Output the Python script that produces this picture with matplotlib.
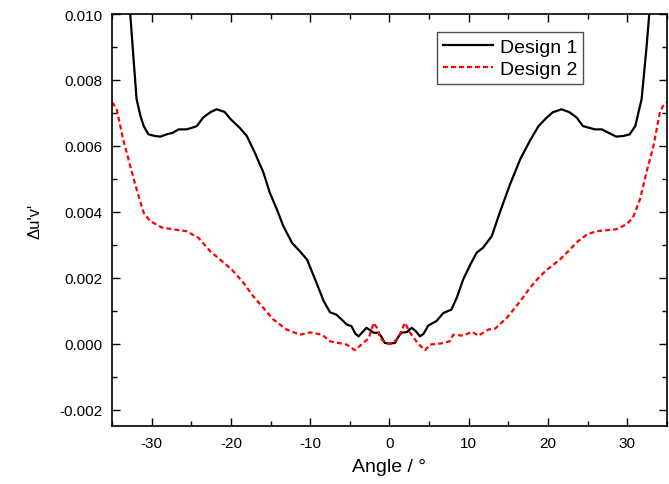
import matplotlib
matplotlib.use("Agg")
import matplotlib.pyplot as plt
from matplotlib.ticker import MultipleLocator, FormatStrFormatter

plt.rcParams["font.family"] = ["Liberation Sans", "DejaVu Sans"]
plt.rcParams["axes.unicode_minus"] = False

# Design 1
angle1 = [-33.3, -32.7, -32.3, -31.9, -31.4, -31.0, -30.4, -29.6, -28.9, -28.1,
          -27.3, -26.6, -25.6, -24.9, -24.3, -23.5, -22.6, -21.8, -20.8, -20.0,
          -18.9, -18.0, -17.0, -15.9, -15.1, -14.2, -13.4, -12.3, -11.3, -10.4,
          -9.2, -8.3, -7.5, -6.7, -5.9, -5.4, -4.8, -4.3, -3.9,
          -3.4, -2.9, -2.4, -2.0, -1.4, -1.0, -0.6, 0.0, 0.7, 1.1,
          1.5, 2.2, 2.8, 3.3, 3.85, 4.3, 4.9, 5.9, 6.8, 7.8,
          8.5, 9.3, 10.2, 11.0, 11.8, 12.9, 13.9, 15.2, 16.5, 17.7,
          18.8, 19.8, 20.6, 21.7, 22.7, 23.6, 24.4, 25.9, 26.8, 27.6, 28.6,
          29.5, 30.3, 31.0, 31.8, 32.4, 32.8, 33.2]
duv1 = [0.0115, 0.0100, 0.0087, 0.00742, 0.0069, 0.0066, 0.00635, 0.0063, 0.00628, 0.00635,
        0.0064, 0.0065, 0.0065, 0.00655, 0.0066, 0.00686, 0.00702, 0.00711, 0.00703, 0.0068,
        0.00655, 0.0063, 0.0058, 0.00519, 0.00458, 0.00407, 0.00357, 0.00306, 0.0028, 0.00255,
        0.00184, 0.00129, 0.00095, 0.00088, 0.0007, 0.00058, 0.00053, 0.0003, 0.00022,
        0.00035, 0.00048, 0.0004, 0.00033, 0.00033, 0.0002, 0.00002, 0.0, 0.00002, 0.0002,
        0.00033, 0.00035, 0.00048, 0.00038, 0.00022, 0.0003, 0.00055, 0.00068, 0.00093, 0.00103,
        0.0014, 0.00195, 0.0024, 0.00276, 0.00291, 0.00326, 0.00397, 0.00483, 0.0056, 0.00615,
        0.0066, 0.00685, 0.00702, 0.00711, 0.00702, 0.00686, 0.0066, 0.0065, 0.0065, 0.0064, 0.00628,
        0.0063, 0.00635, 0.0066, 0.00742, 0.00894, 0.0101, 0.0115]

# Design 2
angle2 = [-35.0, -34.8, -34.4, -33.6, -32.7, -31.9, -31.0, -30.2, -28.7, -27.3,
          -25.6, -24.1, -22.6, -19.9, -18.4, -17.2, -15.9, -14.65, -13.0, -11.3,
          -10.0, -8.5, -7.5, -5.4, -4.35, -3.4, -2.6, -2.0, -1.5, -1.2,
          -0.4, 0.3, 1.1, 1.95, 2.6, 3.6, 4.5, 5.1, 6.4, 7.6,
          8.05, 9.3, 10.4, 11.2, 12.5, 13.3, 14.8, 16.5, 17.7, 19.0,
          20.0, 21.5, 23.8, 24.9, 26.1, 28.6, 29.9, 30.7, 31.6, 32.4, 33.3,
          34.1, 34.5, 35.0]
duv2 = [0.00732, 0.00726, 0.00711, 0.0062, 0.00539, 0.00468, 0.00397, 0.00372, 0.00352, 0.00347,
        0.00341, 0.00321, 0.0028, 0.00225, 0.00184, 0.00144, 0.00108, 0.00073, 0.00043, 0.00027,
        0.00034, 0.00027, 0.00007, -0.00003, -0.0002, 0.0, 0.00017, 0.00063, 0.00045, 0.00017,
        0.0, 0.0, 0.00017, 0.00063, 0.00033, 0.0, -0.0002, -0.00003, 0.0, 0.00007,
        0.00027, 0.00024, 0.00036, 0.00024, 0.00043, 0.00045, 0.00078, 0.00129, 0.00169, 0.00205,
        0.00227, 0.00255, 0.00311, 0.00331, 0.00341, 0.00347, 0.00362, 0.00382, 0.00438, 0.00519, 0.006,
        0.00701, 0.00721, 0.00732]

fig = plt.figure(figsize=(6.69, 4.85), dpi=100)
ax = fig.add_axes([0.1674, 0.1196, 0.8296, 0.8494])

ax.plot(angle1, duv1, color="black", lw=1.6, label="Design 1")
ax.plot(angle2, duv2, color="red", lw=1.6, linestyle=(0, (2.2, 1.4)), label="Design 2")

ax.set_xlim(-35, 35)
ax.set_ylim(-0.0025, 0.010)
ax.xaxis.set_major_locator(MultipleLocator(10))
ax.xaxis.set_minor_locator(MultipleLocator(5))
ax.yaxis.set_major_locator(MultipleLocator(0.002))
ax.yaxis.set_minor_locator(MultipleLocator(0.001))
ax.yaxis.set_major_formatter(FormatStrFormatter("%.3f"))

ax.tick_params(which="both", direction="in", top=True, right=True, labelsize=11, width=1.0, pad=7)
ax.tick_params(which="major", length=6)
ax.tick_params(which="minor", length=3.5)
for s in ax.spines.values():
    s.set_linewidth(1.2)

ax.set_xlabel("Angle / °", fontsize=14, labelpad=6)
ax.set_ylabel("Δu'v'", fontsize=12, labelpad=12)

leg = ax.legend(loc="upper left", bbox_to_anchor=(0.585, 0.956), fontsize=14, fancybox=False,
                framealpha=1, edgecolor="0.3", handlelength=2.6, borderpad=0.3,
                labelspacing=0.25, handletextpad=0.35, borderaxespad=0)
leg.get_frame().set_linewidth(1.0)

fig.savefig("out.png", dpi=100)
